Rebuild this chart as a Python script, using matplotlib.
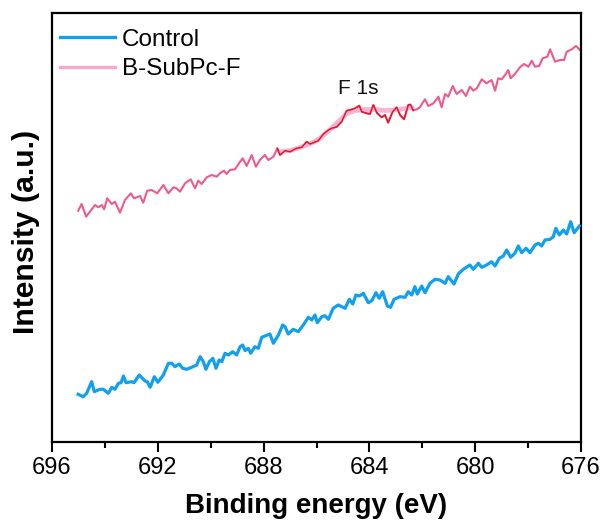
import matplotlib
matplotlib.use("Agg")
import matplotlib.pyplot as plt
from matplotlib.lines import Line2D
from matplotlib.ticker import MultipleLocator
import numpy as np

plt.rcParams['font.family'] = ['Liberation Sans', 'DejaVu Sans']

# ---- data (binding energy in eV, intensity in a.u.) ----
control_energy = [695.01, 694.82, 694.69, 694.50, 694.40, 694.19, 694.06, 693.87, 693.74, 693.62,
                  693.49, 693.39, 693.30, 693.20, 692.99, 692.90, 692.70, 692.48, 692.40, 692.29,
                  692.13, 692.00, 691.79, 691.60, 691.47, 691.35, 691.19, 691.06, 690.91, 690.72,
                  690.53, 690.40, 690.28, 690.18, 690.05, 689.92, 689.80, 689.68, 689.58, 689.46,
                  689.33, 689.17, 689.02, 688.89, 688.79, 688.70, 688.58, 688.49, 688.33, 688.20,
                  688.07, 687.76, 687.63, 687.44, 687.28, 687.19, 687.07, 686.88, 686.69, 686.50,
                  686.31, 686.18, 686.06, 685.97, 685.80, 685.68, 685.55, 685.37, 685.18, 684.92,
                  684.76, 684.63, 684.51, 684.38, 684.23, 684.04, 683.91, 683.75, 683.63, 683.50,
                  683.32, 683.20, 683.07, 682.84, 682.65, 682.53, 682.40, 682.28, 682.19, 682.02,
                  681.90, 681.71, 681.52, 681.33, 681.14, 681.02, 680.80, 680.64, 680.45, 680.20,
                  680.07, 679.88, 679.75, 679.57, 679.38, 679.25, 679.09, 678.94, 678.81, 678.66,
                  678.50, 678.37, 678.24, 678.08, 677.93, 677.74, 677.61, 677.49, 677.36, 677.17,
                  677.05, 676.95, 676.82, 676.67, 676.54, 676.39, 676.26, 676.06]
control_intensity = [47.7, 45.3, 48.7, 60.3, 50.3, 52.7, 52.7, 48.7, 54.7, 52.7,
                     58.7, 59.3, 66.0, 59.3, 60.3, 59.3, 67.0, 61.0, 60.3, 54.7,
                     65.3, 59.7, 67.0, 78.7, 78.7, 75.3, 78.0, 73.7, 72.7, 74.7,
                     77.0, 85.3, 80.3, 72.7, 80.3, 83.7, 73.7, 82.0, 80.3, 88.7,
                     87.0, 90.3, 87.0, 95.3, 97.0, 91.3, 93.7, 88.7, 95.3, 93.7,
                     104.7, 108.0, 98.7, 107.0, 117.0, 115.3, 108.0, 112.7, 110.3, 117.0,
                     124.7, 122.0, 127.0, 119.3, 125.3, 126.3, 122.7, 133.7, 137.0, 133.7,
                     142.7, 138.0, 147.0, 146.0, 148.7, 139.3, 141.3, 149.3, 143.7, 150.3,
                     136.0, 134.7, 142.7, 145.3, 144.7, 150.3, 147.0, 155.3, 148.0, 156.0,
                     149.3, 158.7, 162.7, 162.0, 158.7, 165.3, 158.0, 168.0, 172.7, 177.0,
                     172.7, 178.7, 174.7, 177.0, 180.3, 176.0, 183.7, 186.0, 192.0, 184.7,
                     188.7, 196.0, 189.3, 193.7, 189.3, 197.0, 198.7, 196.0, 202.0, 202.7,
                     205.3, 213.7, 207.0, 212.0, 208.0, 220.3, 209.3, 216.0]

subpc_energy = [695.01, 694.88, 694.71, 694.50, 694.37, 694.25, 694.12, 694.03, 693.91, 693.74,
                693.62, 693.43, 693.24, 693.02, 692.90, 692.67, 692.55, 692.40, 692.23, 692.02,
                691.79, 691.60, 691.41, 691.29, 691.16, 690.97, 690.76, 690.59, 690.47, 690.34,
                690.15, 689.96, 689.77, 689.65, 689.50, 689.40, 689.27, 689.08, 688.89, 688.79,
                688.64, 688.45, 688.29, 688.14, 687.95, 687.82, 687.63, 687.48, 687.38, 687.19,
                687.00, 686.75, 686.56, 686.37, 686.25, 686.12, 685.93, 685.74, 685.55, 685.43,
                685.24, 685.05, 684.86, 684.73, 684.54, 684.38, 684.29, 684.10, 683.98, 683.85,
                683.72, 683.54, 683.41, 683.29, 683.12, 682.97, 682.84, 682.69, 682.53, 682.45,
                682.34, 682.21, 682.09, 681.90, 681.77, 681.58, 681.39, 681.27, 681.14, 681.02,
                680.85, 680.70, 680.51, 680.35, 680.20, 680.07, 679.94, 679.75, 679.57, 679.38,
                679.25, 679.13, 679.00, 678.87, 678.75, 678.66, 678.50, 678.31, 678.16, 677.99,
                677.86, 677.74, 677.58, 677.45, 677.27, 677.17, 676.98, 676.79, 676.64, 676.54,
                676.35, 676.19, 676.04]
subpc_intensity = [231.3, 238.0, 225.3, 232.7, 237.0, 234.7, 237.0, 232.7, 243.7, 238.0,
                   240.3, 229.3, 242.0, 248.7, 243.7, 246.0, 239.3, 251.3, 252.0, 248.7,
                   257.0, 248.7, 254.7, 253.7, 250.3, 258.7, 262.7, 253.7, 261.3, 258.0,
                   264.7, 267.0, 265.3, 268.7, 271.3, 268.0, 272.0, 272.7, 280.3, 283.7,
                   276.0, 287.0, 275.3, 282.0, 287.0, 282.0, 285.3, 293.7, 287.0, 291.3,
                   290.3, 293.7, 294.7, 300.3, 298.0, 299.3, 301.3, 308.0, 312.0, 313.7,
                   315.0, 320.3, 331.3, 332.0, 333.7, 336.3, 330.3, 328.7, 328.0, 337.0,
                   329.3, 324.7, 327.0, 319.3, 330.3, 334.7, 327.0, 322.7, 337.0, 337.5,
                   331.5, 332.7, 334.7, 342.7, 336.0, 338.7, 345.3, 334.7, 348.0, 345.3,
                   356.0, 348.0, 352.0, 346.0, 355.3, 351.3, 353.7, 362.7, 358.7, 362.0,
                   351.3, 363.7, 362.7, 367.0, 372.0, 363.7, 368.0, 374.7, 378.0, 375.3,
                   381.3, 375.3, 376.0, 383.7, 385.3, 392.7, 380.3, 382.0, 382.0, 390.3,
                   392.7, 396.0, 392.0]

# F 1s fitted envelope
fit_energy = [687.38, 687.00, 686.62, 686.25, 685.87, 685.49, 685.11, 684.85, 684.54,
              684.17, 683.79, 683.41, 683.03, 682.65, 682.39]
fit_intensity = [290.0, 291.5, 294.5, 298.0, 303.5, 312.5, 322.0, 328.5, 331.5,
                 332.5, 332.5, 331.5, 332.0, 333.5, 334.5]

f1s_region = (682.34, 687.48)   # energy window highlighted in red
xticks = [696, 692, 688, 684, 680, 676]

# ---- figure ----
fig = plt.figure(figsize=(6.05, 5.26), dpi=100)
ax = fig.add_axes([52/605, 1 - 442/526, (581-52)/605, (442-13)/526])

se = np.array(subpc_energy)
si = np.array(subpc_intensity)
mask = (se >= f1s_region[0]) & (se <= f1s_region[1])

ax.plot(control_energy, control_intensity, color='#12a0ee', lw=2.3, zorder=3)
ax.plot(se, si, color='#ef5a8e', lw=1.5, zorder=2)
ax.plot(fit_energy, fit_intensity, color='#f7a6cf', lw=3.4, alpha=0.85, zorder=3,
        solid_capstyle='round')
ax.plot(se[mask], si[mask], color='#e3141c', lw=1.0, zorder=4)

ax.text(684.43, 353, 'F 1s', fontsize=15, ha='center', va='center', color='#111111')

ax.set_xlim(696, 676)
ax.set_ylim(0, 429)
ax.set_xticks(xticks)
ax.xaxis.set_minor_locator(MultipleLocator(2))
ax.set_yticks([])
ax.tick_params(axis='x', which='major', length=7, width=1.5, labelsize=17, pad=4, direction='out')
ax.tick_params(axis='x', which='minor', length=4, width=1.5, direction='out')
ax.tick_params(top=False, right=False)
for s in ax.spines.values():
    s.set_linewidth(1.6)

ax.set_xlabel('Binding energy (eV)', fontsize=20, fontweight='bold', labelpad=10)
ax.set_ylabel('Intensity (a.u.)', fontsize=21.7, fontweight='bold')
ax.yaxis.set_label_coords(-0.023, 0.49)

handles = [Line2D([], [], color='#12a0ee', lw=2.4),
           Line2D([], [], color='#f7a6cf', lw=2.4)]
ax.legend(handles, ['Control', 'B-SubPc-F'], loc='upper left',
          bbox_to_anchor=(-0.015, 1.0), frameon=False, fontsize=17.5,
          handlelength=2.25, handletextpad=0.3, labelspacing=0.3,
          borderpad=0.2, borderaxespad=0.45)

fig.savefig('out.png', dpi=100)
